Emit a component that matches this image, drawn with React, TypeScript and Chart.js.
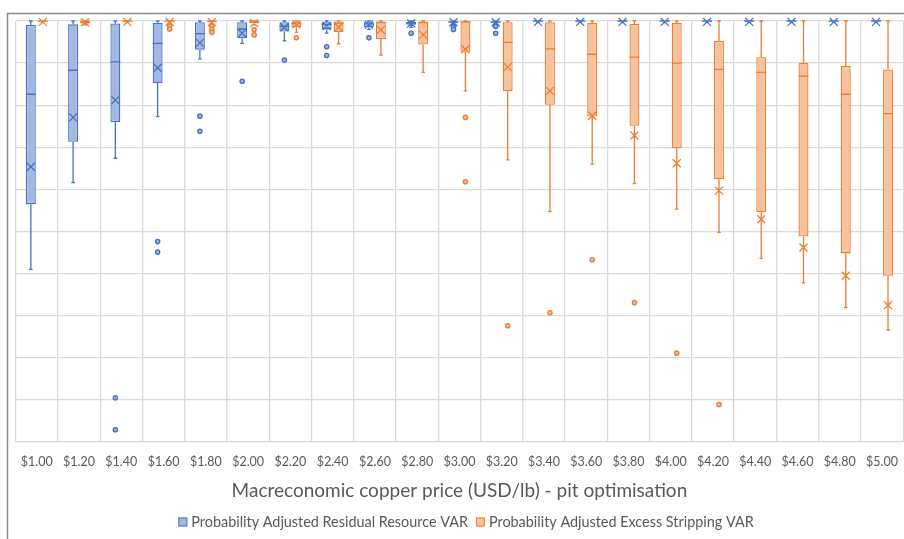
import { useEffect, useRef } from 'react';
import { Chart, registerables } from 'chart.js';

Chart.register(...registerables);

// Copper price scenarios on the x axis
const categories = [
  '$1.00', '$1.20', '$1.40', '$1.60', '$1.80', '$2.00', '$2.20', '$2.40', '$2.60', '$2.80', '$3.00',
  '$3.20', '$3.40', '$3.60', '$3.80', '$4.00', '$4.20', '$4.40', '$4.60', '$4.80', '$5.00',
];

// Probability adjusted residual resource VAR (0 at the top, larger values further down)
const residualMin = [59.0, 38.4, 32.6, 22.7, 9.0, 5.3, 4.7, 2.9, 2.0, 1.5, 0.8, 1.0, 0.4, 0.4, 0.4, 0.4, 0.4, 0.4, 0.4, 0.4, 0.4];
const residualQ1 = [43.5, 28.7, 24.0, 14.7, 6.8, 4.1, 2.5, 2.0, 1.5, 0.9, 0.4, 0.4, 0.1, 0.1, 0.1, 0.1, 0.1, 0.1, 0.1, 0.1, 0.1];
const residualMedian = [17.4, 11.7, 9.7, 5.3, 3.0, 1.9, 1.3, 0.8, 0.7, 0.5, 0.2, 0.2, 0.0, 0.0, 0.0, 0.0, 0.0, 0.0, 0.0, 0.0, 0.0];
const residualQ3 = [0.95, 0.8, 0.6, 0.4, 0.3, 0.3, 0.3, 0.3, 0.3, 0.2, 0.1, 0.1, 0.0, 0.0, 0.0, 0.0, 0.0, 0.0, 0.0, 0.0, 0.0];
const residualMax = [0, 0, 0, 0, 0, 0, 0, 0, 0, 0, 0, 0, 0, 0, 0, 0, 0, 0, 0, 0, 0];
const residualMean = [34.6, 22.9, 18.8, 11.1, 5.2, 2.9, 1.5, 1.2, 0.9, 0.6, 0.3, 0.3, 0.2, 0.2, 0.2, 0.2, 0.2, 0.2, 0.2, 0.2, 0.2];
const residualOutliers = [
  [], [], [89.5, 97.1], [52.4, 54.9], [22.6, 26.2], [14.3], [9.3], [6.1, 8.2], [4.0], [2.9], [1.4, 2.0],
  [1.3, 2.9], [], [], [], [], [], [], [], [], [],
];

// Probability adjusted excess stripping VAR
const strippingMin = [0.4, 0.9, 0.4, 0.4, 0.6, 0.9, 2.7, 5.4, 8.1, 12.2, 16.6, 33.0, 45.3, 34.0, 38.6, 44.7, 50.2, 56.4, 62.2, 68.1, 73.4];
const strippingQ1 = [0.1, 0.6, 0.1, 0.1, 0.3, 0.5, 1.5, 2.7, 4.3, 5.6, 7.3, 16.6, 19.9, 22.7, 24.9, 30.2, 37.6, 45.4, 51.2, 55.2, 60.5];
const strippingMedian = [0.0, 0.1, 0.0, 0.0, 0.1, 0.1, 0.6, 0.5, 0.4, 0.4, 0.2, 5.1, 6.6, 7.9, 8.6, 10.0, 11.5, 12.2, 13.1, 17.4, 22.0];
const strippingQ3 = [0.0, 0.0, 0.0, 0.0, 0.0, 0.0, 0.1, 0.1, 0.1, 0.1, 0.1, 0.3, 0.3, 0.5, 0.7, 0.5, 4.75, 8.6, 10.0, 10.7, 11.5];
const strippingMax = [0, 0, 0, 0, 0, 0, 0, 0, 0, 0, 0, 0, 0, 0, 0, 0, 0, 0, 0, 0, 0];
const strippingMean = [0.2, 0.3, 0.2, 0.2, 0.3, 0.5, 0.8, 1.5, 2.1, 3.3, 6.7, 10.9, 16.6, 22.5, 27.2, 33.8, 40.3, 47.1, 53.8, 60.5, 67.5];
const strippingOutliers = [
  [], [], [], [1.2, 1.9], [1.2, 2.0, 2.7], [2.1, 3.3], [4.0], [], [], [], [22.9, 38.2],
  [72.4], [69.3], [56.7], [66.9], [78.9], [91.1], [], [], [], [],
];

const seriesNames = ['Probability Adjusted Residual Resource VAR', 'Probability Adjusted Excess Stripping VAR'];

const BLUE = '#4472C4';
const BLUE_FILL = '#A3B8E2';
const ORANGE = '#ED7D31';
const ORANGE_FILL = '#F7C29E';
const TEXT = '#595959';
const GRID = '#DADADA';
const FONT = 'Lato, "Open Sans", sans-serif';

type Stats = {
  min: number[]; q1: number[]; median: number[]; q3: number[]; max: number[]; mean: number[]; outliers: number[][];
};

const residualStats: Stats = {
  min: residualMin, q1: residualQ1, median: residualMedian, q3: residualQ3,
  max: residualMax, mean: residualMean, outliers: residualOutliers,
};
const strippingStats: Stats = {
  min: strippingMin, q1: strippingQ1, median: strippingMedian, q3: strippingQ3,
  max: strippingMax, mean: strippingMean, outliers: strippingOutliers,
};

// Whiskers, medians, mean markers and outlier points on top of the floating bars
const boxPlotPlugin = {
  id: 'boxPlotMarks',
  afterDatasetsDraw(chart: any) {
    const { ctx } = chart;
    const y = chart.scales.y;
    chart.data.datasets.forEach((ds: any, di: number) => {
      const meta = chart.getDatasetMeta(di);
      const s: Stats = ds.stats;
      ctx.save();
      ctx.strokeStyle = ds.borderColor;
      ctx.lineWidth = 1.3;
      meta.data.forEach((el: any, i: number) => {
        const x = el.x;
        const half = el.width / 2;
        const pMin = y.getPixelForValue(s.min[i]);
        const pQ1 = y.getPixelForValue(s.q1[i]);
        const pQ3 = y.getPixelForValue(s.q3[i]);
        const pMax = y.getPixelForValue(s.max[i]);
        const pMed = y.getPixelForValue(s.median[i]);
        const pMean = y.getPixelForValue(s.mean[i]);
        ctx.beginPath();
        // whiskers
        ctx.moveTo(x, pQ1); ctx.lineTo(x, pMin);
        ctx.moveTo(x, pQ3); ctx.lineTo(x, pMax);
        // caps
        ctx.moveTo(x - 1.8, pMin); ctx.lineTo(x + 1.8, pMin);
        ctx.moveTo(x - 1.8, pMax); ctx.lineTo(x + 1.8, pMax);
        // median
        ctx.moveTo(x - half, pMed); ctx.lineTo(x + half, pMed);
        // mean marker
        const m = 4;
        ctx.moveTo(x - m, pMean - m); ctx.lineTo(x + m, pMean + m);
        ctx.moveTo(x + m, pMean - m); ctx.lineTo(x - m, pMean + m);
        ctx.stroke();
        // outliers
        s.outliers[i].forEach((v) => {
          ctx.beginPath();
          ctx.arc(x, y.getPixelForValue(v), 2.1, 0, Math.PI * 2);
          ctx.fillStyle = ds.backgroundColor;
          ctx.fill();
          ctx.lineWidth = 1.4;
          ctx.stroke();
          ctx.lineWidth = 1.3;
        });
      });
      ctx.restore();
    });
  },
};

// Outer frame and the legend row under the axis title
const framePlugin = {
  id: 'frameAndLegend',
  beforeDraw(chart: any) {
    const { ctx } = chart;
    ctx.save();
    ctx.fillStyle = '#ffffff';
    ctx.fillRect(0, 0, chart.width, chart.height);
    ctx.strokeStyle = '#8a8a8a';
    ctx.lineWidth = 1.5;
    ctx.beginPath();
    ctx.moveTo(7.5, chart.height);
    ctx.lineTo(7.5, 13.5);
    ctx.lineTo(chart.width, 13.5);
    ctx.stroke();
    ctx.restore();
  },
  afterDraw(chart: any) {
    const { ctx } = chart;
    ctx.save();
    ctx.font = `14.4px ${FONT}`;
    ctx.textBaseline = 'middle';
    const box = 9;
    const gapText = 4;
    const gapItem = 8;
    const widths = seriesNames.map((t) => ctx.measureText(t).width);
    const total = widths.reduce((a, w) => a + box + gapText + w, 0) + gapItem;
    let x = 466 - total / 2;
    const yMid = 522;
    chart.data.datasets.forEach((ds: any, i: number) => {
      ctx.fillStyle = ds.backgroundColor;
      ctx.strokeStyle = ds.borderColor;
      ctx.lineWidth = 1;
      ctx.fillRect(x, yMid - box / 2, box, box);
      ctx.strokeRect(x + 0.5, yMid - box / 2 + 0.5, box - 1, box - 1);
      ctx.fillStyle = TEXT;
      ctx.fillText(seriesNames[i], x + box + gapText, yMid + 0.5);
      x += box + gapText + widths[i] + gapItem;
    });
    ctx.restore();
  },
};

export default function App() {
  const canvasRef = useRef<HTMLCanvasElement | null>(null);

  useEffect(() => {
    if (!canvasRef.current) return;
    const chart = new Chart(canvasRef.current, {
      type: 'bar',
      data: {
        labels: categories,
        datasets: [
          {
            label: seriesNames[0],
            data: categories.map((_, i) => [residualQ3[i], residualQ1[i]]),
            backgroundColor: BLUE_FILL,
            borderColor: BLUE,
            borderWidth: 1.3,
            borderSkipped: false,
            categoryPercentage: 0.567,
            barPercentage: 0.83,
            stats: residualStats,
          } as any,
          {
            label: seriesNames[1],
            data: categories.map((_, i) => [strippingQ3[i], strippingQ1[i]]),
            backgroundColor: ORANGE_FILL,
            borderColor: ORANGE,
            borderWidth: 1.3,
            borderSkipped: false,
            categoryPercentage: 0.567,
            barPercentage: 0.83,
            stats: strippingStats,
          } as any,
        ],
      },
      options: {
        animation: false,
        responsive: true,
        maintainAspectRatio: false,
        layout: { padding: { left: 15.7, top: 21, right: 0, bottom: 40 } },
        plugins: {
          legend: { display: false },
          tooltip: { enabled: false },
        },
        scales: {
          x: {
            grid: { color: GRID, lineWidth: 1.3, drawTicks: false, offset: true },
            border: { display: false },
            ticks: { color: TEXT, padding: 6, font: { family: FONT, size: 12.5, lineHeight: 28 / 12.5 } },
            title: {
              display: true,
              text: 'Macreconomic copper price (USD/lb) - pit optimisation',
              color: TEXT,
              font: { family: FONT, size: 19, lineHeight: 17 / 19 },
              padding: { top: 0, bottom: 0 },
            },
          },
          y: {
            reverse: true,
            min: 0,
            max: 100,
            grid: { color: GRID, lineWidth: 1.3, drawTicks: false },
            border: { display: false },
            ticks: { display: false, stepSize: 10 },
          },
        },
      },
      plugins: [framePlugin, boxPlotPlugin],
    });
    return () => chart.destroy();
  }, []);

  return (
    <div style={{ position: 'fixed', left: 0, top: 0, width: 904, height: 539, background: '#fff' }}>
      <canvas ref={canvasRef} />
    </div>
  );
}
